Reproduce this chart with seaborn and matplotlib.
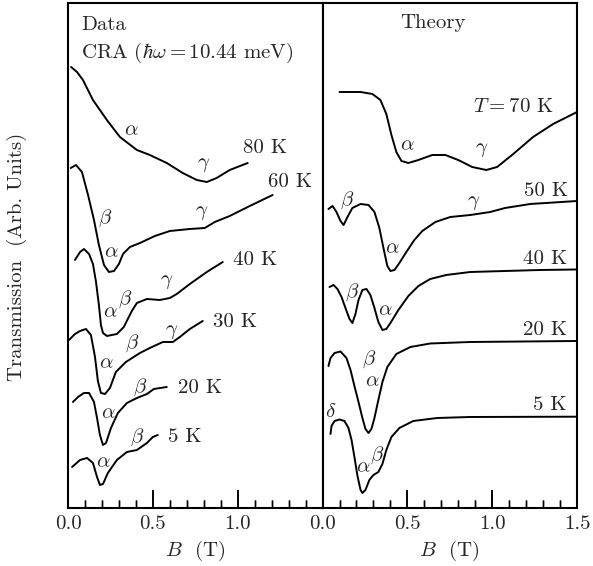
import numpy as np
import pandas as pd
import matplotlib
matplotlib.use("Agg")
import matplotlib.pyplot as plt
import seaborn as sns
from matplotlib.ticker import FixedLocator, FormatStrFormatter

# ---------------- Data panel (measured CRA) ----------------
data_80K_B = [0.018, 0.053, 0.088, 0.147, 0.229, 0.306, 0.406, 0.482, 0.582, 0.676, 0.759, 0.818, 0.876, 0.953, 1.059]
data_80K_T = [4.41, 4.36, 4.28, 4.08, 3.88, 3.71, 3.58, 3.53, 3.45, 3.35, 3.28, 3.26, 3.30, 3.38, 3.45]

data_60K_B = [0.016, 0.047, 0.082, 0.118, 0.153, 0.182, 0.212, 0.241, 0.271, 0.300, 0.324, 0.365, 0.424, 0.512, 0.600, 0.718, 0.806, 0.865, 0.953, 1.071, 1.206]
data_60K_T = [3.40, 3.43, 3.36, 3.13, 2.88, 2.63, 2.43, 2.36, 2.37, 2.44, 2.54, 2.61, 2.65, 2.72, 2.77, 2.79, 2.80, 2.86, 2.92, 3.02, 3.13]

data_40K_B = [0.041, 0.071, 0.094, 0.124, 0.147, 0.165, 0.182, 0.194, 0.206, 0.229, 0.288, 0.329, 0.376, 0.406, 0.465, 0.541, 0.600, 0.641, 0.718, 0.818, 0.912]
data_40K_T = [2.48, 2.56, 2.59, 2.54, 2.44, 2.26, 2.03, 1.83, 1.75, 1.72, 1.74, 1.81, 1.97, 2.05, 2.09, 2.08, 2.10, 2.14, 2.24, 2.36, 2.46]

data_30K_B = [0.006, 0.041, 0.071, 0.106, 0.135, 0.159, 0.176, 0.194, 0.218, 0.247, 0.282, 0.341, 0.424, 0.482, 0.559, 0.618, 0.659, 0.718, 0.794]
data_30K_T = [1.68, 1.74, 1.77, 1.79, 1.73, 1.51, 1.27, 1.15, 1.14, 1.20, 1.36, 1.46, 1.55, 1.60, 1.66, 1.66, 1.71, 1.79, 1.87]

data_20K_B = [0.029, 0.059, 0.094, 0.124, 0.153, 0.171, 0.188, 0.206, 0.224, 0.253, 0.294, 0.347, 0.406, 0.465, 0.506, 0.582]
data_20K_T = [1.06, 1.11, 1.15, 1.15, 1.06, 0.90, 0.73, 0.63, 0.65, 0.80, 0.95, 1.05, 1.10, 1.14, 1.19, 1.21]

data_5K_B = [0.024, 0.071, 0.112, 0.147, 0.171, 0.188, 0.206, 0.235, 0.288, 0.347, 0.406, 0.465, 0.500, 0.529]
data_5K_T = [0.41, 0.48, 0.50, 0.45, 0.31, 0.23, 0.24, 0.35, 0.48, 0.56, 0.58, 0.65, 0.71, 0.73]

# ---------------- Theory panel ----------------
th_70K_B = [0.100, 0.224, 0.294, 0.341, 0.376, 0.406, 0.435, 0.465, 0.506, 0.565, 0.647, 0.724, 0.800, 0.882, 0.965, 1.029, 1.124, 1.241, 1.359, 1.500]
th_70K_T = [4.16, 4.16, 4.14, 4.08, 3.94, 3.73, 3.56, 3.47, 3.45, 3.48, 3.53, 3.53, 3.48, 3.41, 3.38, 3.41, 3.54, 3.71, 3.84, 3.96]

th_50K_B = [0.035, 0.059, 0.082, 0.106, 0.124, 0.147, 0.176, 0.224, 0.271, 0.306, 0.335, 0.359, 0.382, 0.400, 0.424, 0.453, 0.494, 0.541, 0.588, 0.665, 0.753, 0.871, 0.988, 1.076, 1.224, 1.500]
th_50K_T = [2.99, 3.02, 2.96, 2.87, 2.83, 2.91, 3.00, 3.04, 3.03, 2.96, 2.80, 2.60, 2.42, 2.37, 2.38, 2.45, 2.56, 2.68, 2.77, 2.86, 2.91, 2.93, 2.96, 3.00, 3.04, 3.07]

th_40K_B = [0.041, 0.065, 0.088, 0.112, 0.135, 0.159, 0.176, 0.194, 0.212, 0.235, 0.259, 0.282, 0.306, 0.329, 0.353, 0.376, 0.400, 0.447, 0.506, 0.565, 0.635, 0.729, 0.871, 1.076, 1.282, 1.500]
th_40K_T = [2.21, 2.23, 2.19, 2.11, 2.00, 1.89, 1.85, 1.94, 2.08, 2.18, 2.19, 2.13, 2.00, 1.86, 1.78, 1.79, 1.85, 1.98, 2.12, 2.22, 2.29, 2.33, 2.36, 2.37, 2.38, 2.385]

th_20K_B = [0.035, 0.047, 0.071, 0.106, 0.141, 0.165, 0.188, 0.212, 0.235, 0.253, 0.271, 0.288, 0.306, 0.329, 0.353, 0.382, 0.435, 0.518, 0.635, 0.871, 1.500]
th_20K_T = [1.42, 1.50, 1.55, 1.565, 1.50, 1.38, 1.22, 1.06, 0.90, 0.79, 0.75, 0.79, 0.90, 1.08, 1.26, 1.41, 1.54, 1.61, 1.645, 1.66, 1.67]

th_5K_B = [0.047, 0.053, 0.071, 0.100, 0.129, 0.153, 0.171, 0.188, 0.206, 0.224, 0.235, 0.253, 0.276, 0.300, 0.329, 0.353, 0.376, 0.406, 0.453, 0.535, 0.676, 0.871, 1.500]
th_5K_T = [0.74, 0.82, 0.87, 0.885, 0.87, 0.80, 0.68, 0.51, 0.32, 0.18, 0.15, 0.18, 0.28, 0.33, 0.36, 0.44, 0.58, 0.71, 0.80, 0.87, 0.90, 0.91, 0.913]

# tick values
data_major_ticks = [0.0, 0.5, 1.0]
theory_major_ticks = [0.0, 0.5, 1.0, 1.5]
major_marks = [0.5, 1.0]
minor_ticks = [0.1, 0.2, 0.3, 0.4, 0.6, 0.7, 0.8, 0.9, 1.1, 1.2, 1.3, 1.4]

# annotations: (B, T, text)
data_labels = [
    (1.159, 3.60, "80 K"), (1.311, 3.26, "60 K"), (1.105, 2.48, "40 K"),
    (0.985, 1.86, "30 K"), (0.776, 1.20, "20 K"), (0.691, 0.71, "5 K"),
]
data_peaks = [
    (0.375, 3.78, r"$\alpha$"), (0.800, 3.43, r"$\gamma$"),
    (0.218, 2.90, r"$\beta$"), (0.257, 2.56, r"$\alpha$"), (0.786, 2.95, r"$\gamma$"),
    (0.247, 1.96, r"$\alpha$"), (0.335, 2.09, r"$\beta$"), (0.580, 2.255, r"$\gamma$"),
    (0.228, 1.45, r"$\alpha$"), (0.375, 1.65, r"$\beta$"), (0.610, 1.76, r"$\gamma$"),
    (0.237, 0.95, r"$\alpha$"), (0.424, 1.21, r"$\beta$"),
    (0.208, 0.46, r"$\alpha$"), (0.408, 0.71, r"$\beta$"),
]
theory_labels = [
    (1.124, 4.01, r"$T = 70$ K"), (1.315, 3.17, "50 K"), (1.312, 2.49, "40 K"),
    (1.312, 1.78, "20 K"), (1.341, 1.03, "5 K"),
]
theory_peaks = [
    (0.498, 3.63, r"$\alpha$"), (0.939, 3.58, r"$\gamma$"),
    (0.145, 3.08, r"$\beta$"), (0.410, 2.60, r"$\alpha$"), (0.890, 3.05, r"$\gamma$"),
    (0.175, 2.16, r"$\beta$"), (0.370, 1.98, r"$\alpha$"),
    (0.272, 1.49, r"$\beta$"), (0.292, 1.27, r"$\alpha$"),
    (0.047, 0.96, r"$\delta$"), (0.243, 0.41, r"$\alpha$"), (0.322, 0.53, r"$\beta$"),
]

data_curves = [(data_80K_B, data_80K_T), (data_60K_B, data_60K_T), (data_40K_B, data_40K_T),
               (data_30K_B, data_30K_T), (data_20K_B, data_20K_T), (data_5K_B, data_5K_T)]
theory_curves = [(th_70K_B, th_70K_T), (th_50K_B, th_50K_T), (th_40K_B, th_40K_T),
                 (th_20K_B, th_20K_T), (th_5K_B, th_5K_T)]

sns.set_theme(style="ticks")
plt.rcParams['font.family'] = ['cmr10', 'DejaVu Serif']
plt.rcParams['mathtext.fontset'] = 'cm'
plt.rcParams['axes.unicode_minus'] = False

FS = 15

fig = plt.figure(figsize=(5.93, 5.66), dpi=100)
axL = fig.add_axes([0.1147, 0.1025, 0.4292, 0.8922])
axR = fig.add_axes([0.5439, 0.1025, 0.4292, 0.8922])

for ax, curves in ((axL, data_curves), (axR, theory_curves)):
    for B, T in curves:
        df = pd.DataFrame({"B": B, "T": T})
        sns.lineplot(data=df, x="B", y="T", ax=ax, color="black", lw=1.4,
                     sort=False, estimator=None, solid_joinstyle='round',
                     solid_capstyle='round')

for ax, majors in ((axL, data_major_ticks), (axR, theory_major_ticks)):
    ax.set_xlim(0, 1.5)
    ax.set_ylim(0, 5.05)
    ax.set_ylabel("")
    ax.yaxis.set_major_locator(FixedLocator([]))
    ax.xaxis.set_major_locator(FixedLocator(majors))
    ax.xaxis.set_minor_locator(FixedLocator(minor_ticks))
    ax.xaxis.set_major_formatter(FormatStrFormatter('%.1f'))
    ax.set_xlabel(r"$B$  (T)", fontsize=FS, labelpad=4)
    for s in ax.spines.values():
        s.set_linewidth(1.5)
        s.set_color('black')
    ax.tick_params(axis='x', which='major', direction='in', length=13, width=1.2,
                   bottom=True, top=False, color='black', labelsize=FS, pad=5)
    ax.tick_params(axis='x', which='minor', direction='in', length=6, width=1.0,
                   bottom=True, top=False, color='black')
    # inward tick marks along the bottom axis (in axis-fraction height)
    xt = ax.get_xaxis_transform()
    ax.vlines(major_marks, 0, 0.036, transform=xt, colors='black', lw=1.2, zorder=5)
    ax.vlines(minor_ticks, 0, 0.0165, transform=xt, colors='black', lw=1.0, zorder=5)

axL.text(0.076, 4.83, "Data", fontsize=FS, ha='left', va='center')
axL.text(0.076, 4.55, r"CRA ($\hbar\omega = 10.44$ meV)", fontsize=FS, ha='left', va='center')
axR.text(0.653, 4.85, "Theory", fontsize=FS, ha='center', va='center')

for ax, labs in ((axL, data_labels + data_peaks), (axR, theory_labels + theory_peaks)):
    for b, t, s in labs:
        ax.text(b, t, s, fontsize=FS, ha='center', va='center')

fig.text(0.029, 1 - 257 / 566, "Transmission  (Arb. Units)", rotation=90,
         fontsize=FS, ha='center', va='center')

fig.savefig("out.png", dpi=100)
